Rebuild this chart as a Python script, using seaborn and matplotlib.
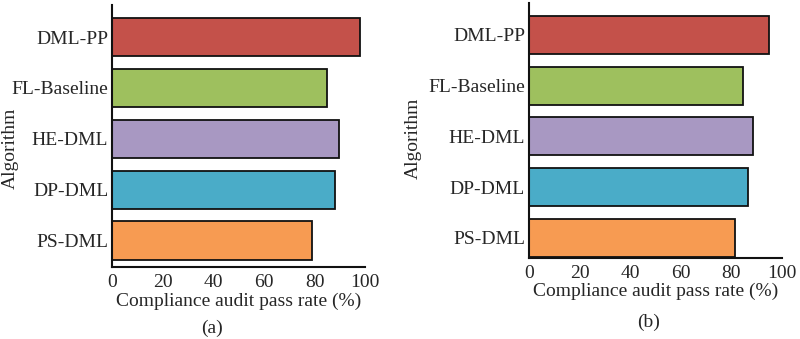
import matplotlib
matplotlib.use("Agg")
import matplotlib.pyplot as plt
import seaborn as sns
import pandas as pd

algorithms = ["DML-PP", "FL-Baseline", "HE-DML", "DP-DML", "PS-DML"]
pass_rate_a = [98, 85, 89.5, 88, 79]
pass_rate_b = [95, 84.5, 88.5, 86.5, 81.5]
bar_colors = ["#C4514A", "#9EC05E", "#A898C2", "#4AACC8", "#F79B52"]
x_ticks = [0, 20, 40, 60, 80, 100]

sns.set_theme(style="white")
plt.rcParams["font.family"] = ["Liberation Serif", "DejaVu Serif"]
plt.rcParams["mathtext.fontset"] = "stix"

FS = 14
palette = dict(zip(algorithms, bar_colors))

fig = plt.figure(figsize=(8.0, 3.39), dpi=100)
ax_a = fig.add_axes([0.1404, 0.2124, 0.3162, 0.7729])
ax_b = fig.add_axes([0.6616, 0.2398, 0.3155, 0.7505])


def draw_panel(ax, values, y_bottom, y_top, ylabel_xy):
    df = pd.DataFrame({"Algorithm": algorithms, "Rate": values})
    sns.barplot(data=df, x="Rate", y="Algorithm", hue="Algorithm",
                palette=palette, order=algorithms, hue_order=algorithms,
                orient="h", width=0.75, edgecolor="#111111", linewidth=1.3,
                saturation=1, legend=False, ax=ax)
    ax.set_xlim(0, 100)
    ax.set_ylim(y_bottom, y_top)
    ax.set_xticks(x_ticks)
    ax.set_xticklabels([str(t) for t in x_ticks], fontsize=FS)
    ax.set_yticks(range(len(algorithms)))
    ax.set_yticklabels(algorithms, fontsize=FS)
    ax.set_yticks([y_top, 0.5, 1.5, 2.5, 3.5], minor=True)
    ax.tick_params(axis="y", which="major", length=0, pad=3)
    ax.tick_params(axis="y", which="minor", direction="in", length=6,
                   width=1.5, color="#111111")
    ax.tick_params(axis="x", which="major", direction="in", length=6,
                   width=1.5, color="#111111", pad=5)
    for side in ("top", "right"):
        ax.spines[side].set_visible(False)
    for side in ("left", "bottom"):
        ax.spines[side].set_linewidth(1.5)
        ax.spines[side].set_color("#111111")
    ax.set_xlabel("Compliance audit pass rate (%)", fontsize=FS, labelpad=1)
    ax.set_ylabel("Algorithm", fontsize=FS)
    ax.yaxis.set_label_coords(*ylabel_xy)


draw_panel(ax_a, pass_rate_a, 4.52, -0.63, (-0.369, 0.454))
draw_panel(ax_b, pass_rate_b, 4.39, -0.625, (-0.425, 0.469))

fig.text(0.265, 0.032, "(a)", fontsize=FS, ha="center", va="center")
fig.text(0.811, 0.05, "(b)", fontsize=FS, ha="center", va="center")

fig.savefig("out.png", dpi=100)
